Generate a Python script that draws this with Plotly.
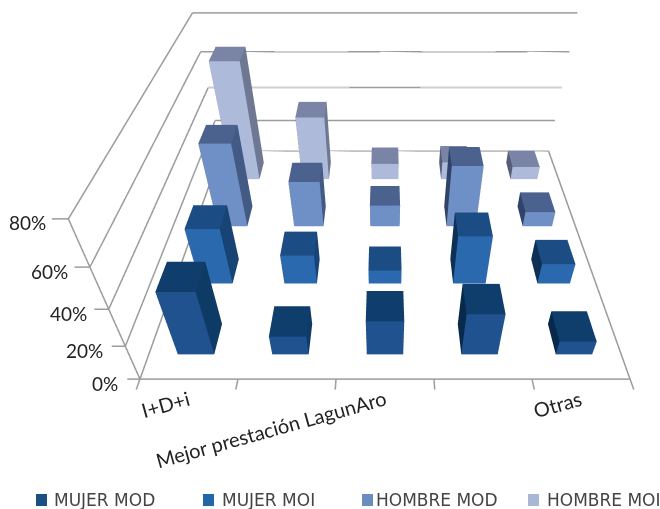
import plotly.graph_objects as go

categories = ["I+D+i", "", "Mejor prestación LagunAro", "", "Otras"]
series_names = ["MUJER MOD", "MUJER MOI", "HOMBRE MOD", "HOMBRE MOI"]
mujer_mod = [36, 11, 20, 24, 8]
mujer_moi = [32, 17, 8, 28, 12]
hombre_mod = [48, 27, 13, 36, 9]
hombre_moi = [68, 38, 10, 11, 8]
z_ticks = [0, 20, 40, 60, 80]

series_values = [mujer_mod, mujer_moi, hombre_mod, hombre_moi]
# face shades per series: front, top, right side, left side
shades = [
    ("#20528f", "#0f3d6c", "#0e3a66", "#08294a"),
    ("#2a69ae", "#1c4c84", "#174474", "#0f3055"),
    ("#6f90c6", "#4b628f", "#435a85", "#2f4468"),
    ("#aebada", "#7a84a6", "#6e7893", "#555e78"),
]
legend_colors = ["#1a4f84", "#2166a8", "#6a8cc0", "#a9b7d6"]

BAR_W = 0.385
BAR_D = 0.40
X_RANGE = [-0.2, 5.2]
Y_RANGE = [-0.2, 4.0]
Z_RANGE = [-4, 80]
GRID = "#9c9c9c"
INK = "#222222"


def box(cx, cy, h):
    """Vertices and triangles of one upright bar."""
    x0, x1 = cx - BAR_W / 2, cx + BAR_W / 2
    y0, y1 = cy - BAR_D / 2, cy + BAR_D / 2
    xs = [x0, x1, x1, x0, x0, x1, x1, x0]
    ys = [y0, y0, y1, y1, y0, y0, y1, y1]
    zs = [0, 0, 0, 0, h, h, h, h]
    tri = [
        (0, 1, 5), (0, 5, 4),  # front
        (4, 5, 6), (4, 6, 7),  # top
        (1, 2, 6), (1, 6, 5),  # right
        (3, 0, 4), (3, 4, 7),  # left
    ]
    return xs, ys, zs, tri


def grid_line(x, y, z):
    return go.Scatter3d(
        x=x, y=y, z=z, mode="lines", line=dict(color=GRID, width=3),
        hoverinfo="skip", showlegend=False)


fig = go.Figure()

# walls and floor; the long back lines run category by category
for z in z_ticks:
    fig.add_trace(grid_line([-0.13, 0], [0, 0], [z, z]))
    fig.add_trace(grid_line([0, 0], [0, 4], [z, z]))
    for i in range(5):
        fig.add_trace(grid_line([i, i + 1], [4, 4], [z, z]))
fig.add_trace(grid_line([0, 0], [0, 0], [0, 80]))
fig.add_trace(grid_line([0, 5], [0, 0], [0, 0]))
fig.add_trace(grid_line([5, 5], [0, 4], [0, 0]))
for i in range(6):
    fig.add_trace(grid_line([i, i], [0, -0.12], [0, 0]))

# bars, drawn back row first
for j in range(3, -1, -1):
    front, top, right, left = shades[j]
    for i, v in enumerate(series_values[j]):
        xs, ys, zs, tri = box(i + 0.5, j + 0.5, v)
        colors = [front] * 2 + [top] * 2 + [right] * 2 + [left] * 2
        fig.add_trace(go.Mesh3d(
            x=xs, y=ys, z=zs,
            i=[t[0] for t in tri], j=[t[1] for t in tri], k=[t[2] for t in tri],
            facecolor=colors, flatshading=True,
            lighting=dict(ambient=1, diffuse=0, specular=0, fresnel=0, roughness=1),
            hoverinfo="skip", showscale=False))

# tick labels sit in scene coordinates
scene_notes = []
for z in z_ticks:
    scene_notes.append(dict(
        x=0, y=0, z=z, text=f"{z}%", showarrow=False, xanchor="right",
        xshift=-20, yshift=-4,
        font=dict(family="Lato", size=19, color=INK)))
for i, name in enumerate(categories):
    if name:
        scene_notes.append(dict(
            x=i + 0.5, y=0, z=0, text=name, showarrow=False, textangle=-15.5,
            xanchor="right", yanchor="top", xshift=6, yshift=-4,
            font=dict(family="Lato", size=20, color=INK)))

PAGE_W = 770
PAGE_H = 509
legend_text_x = [52, 220, 374, 545]
legend_box_x = [36, 203, 362, 528]
shapes = []
notes = []
for name, color, tx, bx in zip(series_names, legend_colors, legend_text_x, legend_box_x):
    shapes.append(dict(
        type="rect", xref="paper", yref="paper",
        x0=bx / PAGE_W, x1=(bx + 11) / PAGE_W,
        y0=1 - 506 / PAGE_H, y1=1 - 494 / PAGE_H,
        fillcolor=color, line=dict(width=0)))
    notes.append(dict(
        xref="paper", yref="paper", x=tx / PAGE_W, y=1 - 500 / PAGE_H,
        text=name, showarrow=False, xanchor="left", yanchor="middle",
        font=dict(family="DejaVu Sans", size=17, color="#444444")))

fig.update_layout(
    width=PAGE_W, height=PAGE_H,
    margin=dict(l=0, r=0, t=0, b=0),
    paper_bgcolor="white",
    showlegend=False,
    shapes=shapes,
    annotations=notes,
    scene=dict(
        domain=dict(x=[0, 1], y=[0, 1]),
        xaxis=dict(visible=False, range=X_RANGE),
        yaxis=dict(visible=False, range=Y_RANGE),
        zaxis=dict(visible=False, range=Z_RANGE),
        aspectmode="manual",
        aspectratio=dict(x=1.0454, y=0.861, z=0.4274),
        camera=dict(
            projection=dict(type="perspective"),
            up=dict(x=0, y=0, z=1),
            eye=dict(x=0, y=-1.1197, z=0.8067),
            center=dict(x=0, y=-0.1597, z=-0.0699),
        ),
        annotations=scene_notes,
    ),
)

fig.write_html("out.html", config=dict(displayModeBar=False))
